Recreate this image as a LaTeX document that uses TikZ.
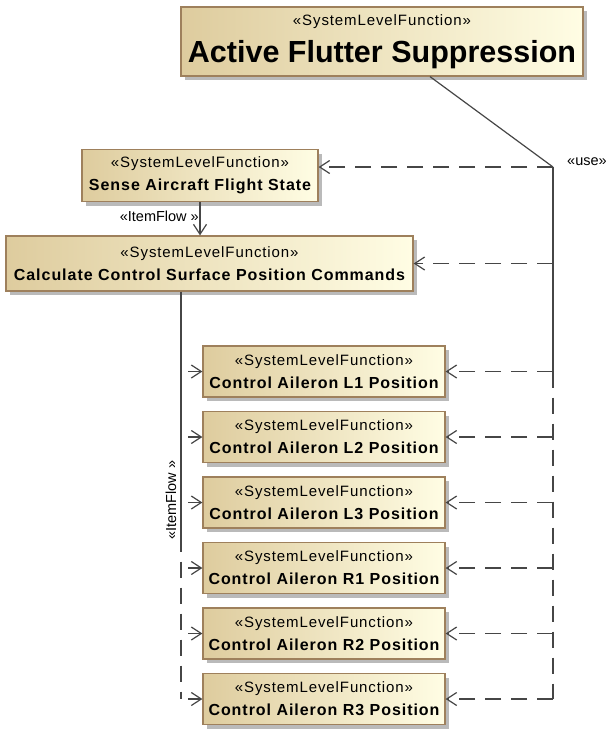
\documentclass[tikz,border=0pt]{standalone}
\usepackage{fontspec}
\setmainfont{Liberation Sans}
\newfontfamily\spacedsans[LetterSpace=6]{Liberation Sans}
\usepackage{tikz}
\usetikzlibrary{arrows.meta, shadows}
\definecolor{boxleft}{RGB}{222,204,158}
\definecolor{boxright}{RGB}{255,253,228}
\definecolor{boxborder}{RGB}{158,128,92}
\definecolor{linegray}{RGB}{70,70,70}

\begin{document}
\begin{tikzpicture}[x=1pt, y=-1pt,
    >={Straight Barb[length=10pt,width=13pt]},
    slf/.style={draw=boxborder, line width=1.2pt, left color=boxleft, right color=boxright,
        drop shadow={shadow xshift=4pt, shadow yshift=-4pt, fill=black!45, opacity=0.6},
        align=center, inner sep=0pt, font=\spacedsans\fontsize{15}{23}\selectfont,
        execute at begin node={\rule{0pt}{14pt}}},
    link/.style={draw=linegray, line width=1.2pt},
    dep/.style={link, dash pattern=on 16pt off 10pt},
    stlabel/.style={font=\fontsize{14.5}{16}\selectfont, inner sep=0pt}]
    \useasboundingbox (0,0) rectangle (609,729);

    % 1. Functions
    \node[slf, minimum width=402pt, minimum height=69pt,
        font=\spacedsans\fontsize{15}{36.5}\selectfont,
        execute at begin node={\rule{0pt}{17pt}}] (afs) at (382,41.5)
        {«SystemLevelFunction»\\{\normalfont\fontsize{30.5}{30}\selectfont\bfseries Active Flutter Suppression}};
    \node[slf, minimum width=236pt, minimum height=52pt] (sense) at (200,175.5)
        {«SystemLevelFunction»\\{\bfseries\fontsize{16}{23}\selectfont Sense Aircraft Flight State}};
    \node[slf, minimum width=407pt, minimum height=55pt] (calc) at (209.5,263.5)
        {«SystemLevelFunction»\\{\bfseries\fontsize{16}{23}\selectfont Calculate Control Surface Position Commands}};
    \foreach \side/\num [count=\i from 0] in {L/1,L/2,L/3,R/1,R/2,R/3} {
        \node[slf, minimum width=242pt, minimum height=51pt] (ail\side\num) at (324,371.5+65.5*\i)
            {«SystemLevelFunction»\\{\bfseries\fontsize{16}{23}\selectfont Control Aileron \side\num\ Position}};
    }

    % 2. Use dependencies
    \coordinate (usej) at (553,167);
    \draw[link] ([xshift=48pt]afs.south) -- (usej);
    \draw[link] (usej) -- (usej |- ailL1.east);
    \draw[dep] (usej |- ailL1.east) -- (usej |- ailR3.east);
    \draw[dep, ->] (usej) -- (usej -| sense.east);
    \foreach \b in {calc, ailL1, ailL2, ailL3, ailR1, ailR2, ailR3} {
        \draw[dep, ->] (usej |- \b.east) -- (\b.east);
    }
    \node[stlabel, anchor=west] (uselbl) at (567,162) {«use»};

    % 3. Item flows
    \draw[link, ->] (sense.south) -- (sense.south |- calc.north);
    \node[stlabel, anchor=east] (flowtop) at (199,216) {«ItemFlow »};
    \coordinate (ftop) at ([xshift=-28.5pt]calc.south);
    \coordinate (fmid) at ([yshift=-244pt]ftop);
    \draw[link] (ftop) -- (fmid);
    \draw[dep] (fmid) -- (ftop |- ailR3.west);
    \foreach \b in {ailL1, ailL2, ailL3, ailR1, ailR2, ailR3} {
        \draw[link, ->] ([xshift=7pt]ftop |- \b.west) -- (\b.west);
    }
    \node[stlabel, rotate=90] (flowside) at (171,500) {«ItemFlow »};
\end{tikzpicture}
\end{document}
